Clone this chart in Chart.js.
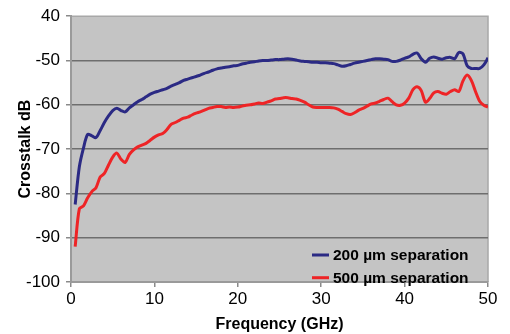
<!DOCTYPE html>
<html>
<head>
<meta charset="utf-8">
<script src="https://cdn.jsdelivr.net/npm/chart.js"></script>
<style>
html,body{margin:0;padding:0;background:#fff}
</style>
</head>
<body>
<canvas id="wykresCrosstalk" width="510" height="334"></canvas>
<script>
const freqGHz = [0.5,1,1.5,2,2.5,3,3.5,4,4.5,5,5.5,6,6.5,7,7.5,8,8.5,9,9.5,10,
  10.5,11,11.5,12,12.5,13,13.5,14,14.5,15,15.5,16,16.5,17,17.5,18,18.5,19,19.5,20,
  20.5,21,21.5,22,22.5,23,23.5,24,24.5,25,25.5,26,26.5,27,27.5,28,28.5,29,29.5,30,
  30.5,31,31.5,32,32.5,33,33.5,34,34.5,35,35.5,36,36.5,37,37.5,38,38.5,39,39.5,40,
  40.5,41,41.5,42,42.5,43,43.5,44,44.5,45,45.5,46,46.5,47,47.5,48,48.5,49,49.5,50];
const sep200 = [-82.5,-74,-69.7,-66.7,-67,-67.4,-65.8,-64,-62.5,-61.3,-60.8,-61.3,-61.6,-60.7,-60,-59.3,-58.8,-58.2,-57.6,-57.2,
  -56.9,-56.6,-56.3,-55.8,-55.4,-55,-54.5,-54.2,-53.9,-53.6,-53.3,-52.9,-52.6,-52.2,-51.9,-51.7,-51.5,-51.4,-51.2,-51.1,
  -50.8,-50.6,-50.4,-50.3,-50.1,-50,-50,-49.9,-49.8,-49.8,-49.7,-49.6,-49.7,-49.9,-50.1,-50.2,-50.3,-50.4,-50.4,-50.5,
  -50.5,-50.6,-50.7,-51,-51.3,-51.2,-50.9,-50.6,-50.4,-50.2,-50,-49.8,-49.6,-49.6,-49.7,-49.8,-50.2,-50.2,-49.9,-49.5,
  -49.2,-48.6,-48.3,-49.6,-50.4,-49.5,-49.2,-49.5,-49.7,-49.4,-49.3,-49.6,-48.2,-48.5,-51.2,-51.8,-51.8,-51.8,-51,-49.4];
const sep500 = [-92,-83.5,-82.8,-81,-79.6,-78.7,-76.3,-75.5,-73.6,-71.8,-70.9,-72.3,-73,-71.2,-70.2,-69.5,-69.1,-68.7,-68,-67.3,
  -66.8,-66.5,-65.6,-64.4,-64,-63.5,-63,-62.8,-62.3,-61.9,-61.6,-61.2,-60.8,-60.6,-60.4,-60.4,-60.6,-60.5,-60.6,-60.5,
  -60.3,-60.1,-60,-59.8,-59.6,-59.7,-59.4,-59.1,-58.7,-58.6,-58.4,-58.4,-58.6,-58.7,-59,-59.4,-60,-60.5,-60.6,-60.6,
  -60.6,-60.6,-60.7,-61,-61.5,-62,-62.2,-61.8,-61.2,-60.8,-60.3,-59.8,-59.6,-59.2,-58.8,-58.5,-59.3,-60,-60.1,-59.6,
  -58.5,-56.6,-55.9,-56.8,-59.4,-58.6,-57.3,-57,-57.4,-57.6,-57,-56.6,-57,-54.6,-53.3,-54.5,-57,-59.2,-60.1,-60.5];
const yTickValues = [-100,-90,-80,-70,-60,-50,-40];
const yTickLabels = ["-100","-90","-80","-70","-60","-50","40"];
const seriesNames = ["200 \u00b5m separation","500 \u00b5m separation"];

const czcionka = "'Liberation Sans', Arial, sans-serif";

const tloWykresu = {
  id: 'tloWykresu',
  beforeDraw(chart) {
    const a = chart.chartArea, c = chart.ctx;
    c.save();
    c.fillStyle = '#c4c4c4';
    c.fillRect(a.left, a.top, a.right - a.left, a.bottom - a.top);
    c.strokeStyle = '#a8a8a8';
    c.lineWidth = 1.5;
    c.beginPath();
    c.moveTo(a.left, a.top);
    c.lineTo(a.right, a.top);
    c.lineTo(a.right, a.bottom);
    c.stroke();
    c.restore();
  }
};

const legenda = {
  id: 'legenda',
  afterDraw(chart) {
    const a = chart.chartArea, c = chart.ctx;
    c.save();
    c.font = "bold 15.5px " + czcionka;
    c.textBaseline = 'middle';
    c.textAlign = 'left';
    chart.data.datasets.forEach((ds, i) => {
      const y = a.bottom - 27 + i * 22.7;
      c.strokeStyle = ds.borderColor;
      c.lineWidth = 3;
      c.beginPath();
      c.moveTo(a.right - 176, y);
      c.lineTo(a.right - 159, y);
      c.stroke();
      c.fillStyle = '#000';
      c.fillText(ds.label, a.right - 155, y + 1);
    });
    c.restore();
  }
};

new Chart(document.getElementById('wykresCrosstalk').getContext('2d'), {
  type: 'line',
  data: {
    datasets: [{
      label: seriesNames[0],
      data: freqGHz.map((f, i) => ({x: f, y: sep200[i]})),
      borderColor: '#2b2a84',
      borderWidth: 3,
      pointRadius: 0,
      tension: 0.3
    }, {
      label: seriesNames[1],
      data: freqGHz.map((f, i) => ({x: f, y: sep500[i]})),
      borderColor: '#ee2426',
      borderWidth: 3,
      pointRadius: 0,
      tension: 0.3
    }]
  },
  options: {
    responsive: false,
    animation: false,
    layout: { padding: { top: 14, right: 22, left: 16, bottom: 0 } },
    scales: {
      x: {
        type: 'linear',
        min: 0, max: 50,
        afterFit(s) { s.height = 52; },
        ticks: { stepSize: 10, color: '#000', font: { family: czcionka, size: 17 }, padding: 2 },
        grid: { display: true, drawOnChartArea: false, tickLength: 5, tickColor: '#8a8a8a', lineWidth: 1.5 },
        border: { color: '#9a9a9a', width: 2 },
        title: { display: true, text: 'Frequency (GHz)', color: '#000', font: { family: czcionka, size: 16, weight: 'bold' }, padding: { top: 1, bottom: 0 } }
      },
      y: {
        min: -100, max: -40,
        afterFit(s) { s.width = 55; },
        afterBuildTicks(s) { s.ticks = yTickValues.map(v => ({ value: v })); },
        ticks: {
          color: '#000',
          font: { family: czcionka, size: 17 },
          padding: 6,
          callback: (v) => yTickLabels[yTickValues.indexOf(v)]
        },
        grid: {
          color: (ctx) => ctx.tick && ctx.tick.value === -40 ? 'rgba(0,0,0,0)' : '#6e6e6e',
          tickColor: '#8a8a8a',
          tickLength: 5,
          lineWidth: 1.5
        },
        border: { color: '#9a9a9a', width: 2 },
        title: { display: true, text: 'Crosstalk dB', color: '#000', font: { family: czcionka, size: 16, weight: 'bold' }, padding: { top: 0, bottom: 0 } }
      }
    },
    plugins: {
      legend: { display: false },
      tooltip: { enabled: false }
    }
  },
  plugins: [tloWykresu, legenda]
});
</script>
</body>
</html>
